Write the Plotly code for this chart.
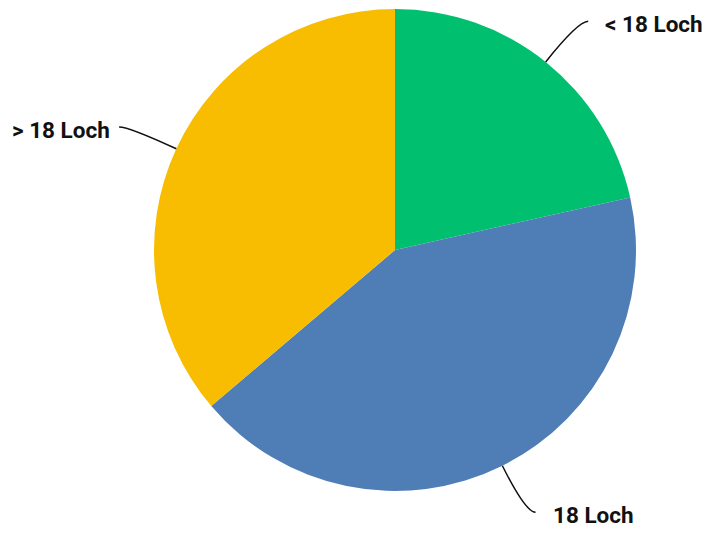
import math
import plotly.graph_objects as go

labels = ["< 18 Loch", "18 Loch", "> 18 Loch"]
values = [21.5, 42.3, 36.2]
colors = ["#00C06F", "#4F7DB6", "#F8BD00"]

W, H = 708, 534
cx, cy, R = 395, 250, 241  # pie centre / radius in px (layout)

dom_x = [(cx - R) / W, (cx + R) / W]
dom_y = [1 - (cy + R) / H, 1 - (cy - R) / H]

fig = go.Figure(go.Pie(
    labels=labels, values=values, sort=False, direction="clockwise", rotation=0,
    marker=dict(colors=colors, line=dict(width=0)),
    textinfo="none", hoverinfo="label+percent", showlegend=False,
    domain=dict(x=dom_x, y=dom_y),
))

# leader lines + labels derived from slice mid-angles
total = sum(values)
acc = 0
shapes, annots = [], []
L1, L2 = 52, 10
GAP_R, GAP_L = 15, 7
for lab, v in zip(labels, values):
    mid = (acc + v / 2) / total * 2 * math.pi
    acc += v
    ux, uy = math.sin(mid), -math.cos(mid)
    p0 = (cx + R * ux, cy + R * uy)
    p1 = (p0[0] + L1 * ux, p0[1] + L1 * uy)
    s = 1 if ux >= 0 else -1
    p2 = (p1[0] + s * L2, p1[1])
    px = lambda p: (p[0] / W, 1 - p[1] / H)
    a, b, c = px(p0), px(p1), px(p2)
    shapes.append(dict(type="path", xref="paper", yref="paper",
                       path=f"M {a[0]},{a[1]} Q {b[0]},{b[1]} {c[0]},{c[1]}",
                       line=dict(color="#111111", width=1.5)))
    gap = GAP_R if s > 0 else GAP_L
    annots.append(dict(x=(p2[0] + s * gap) / W, y=1 - (p2[1] + 3) / H,
                       xref="paper", yref="paper", text=f"<b>{lab}</b>", showarrow=False,
                       xanchor="left" if s > 0 else "right", yanchor="middle",
                       font=dict(family="Roboto", size=22.5, color="#111111")))

fig.update_layout(width=W, height=H, margin=dict(l=0, r=0, t=0, b=0),
                  paper_bgcolor="white", plot_bgcolor="white",
                  shapes=shapes, annotations=annots)
fig.write_html("out.html", config={"displayModeBar": False},
               post_script="document.body.style.margin='0';")
